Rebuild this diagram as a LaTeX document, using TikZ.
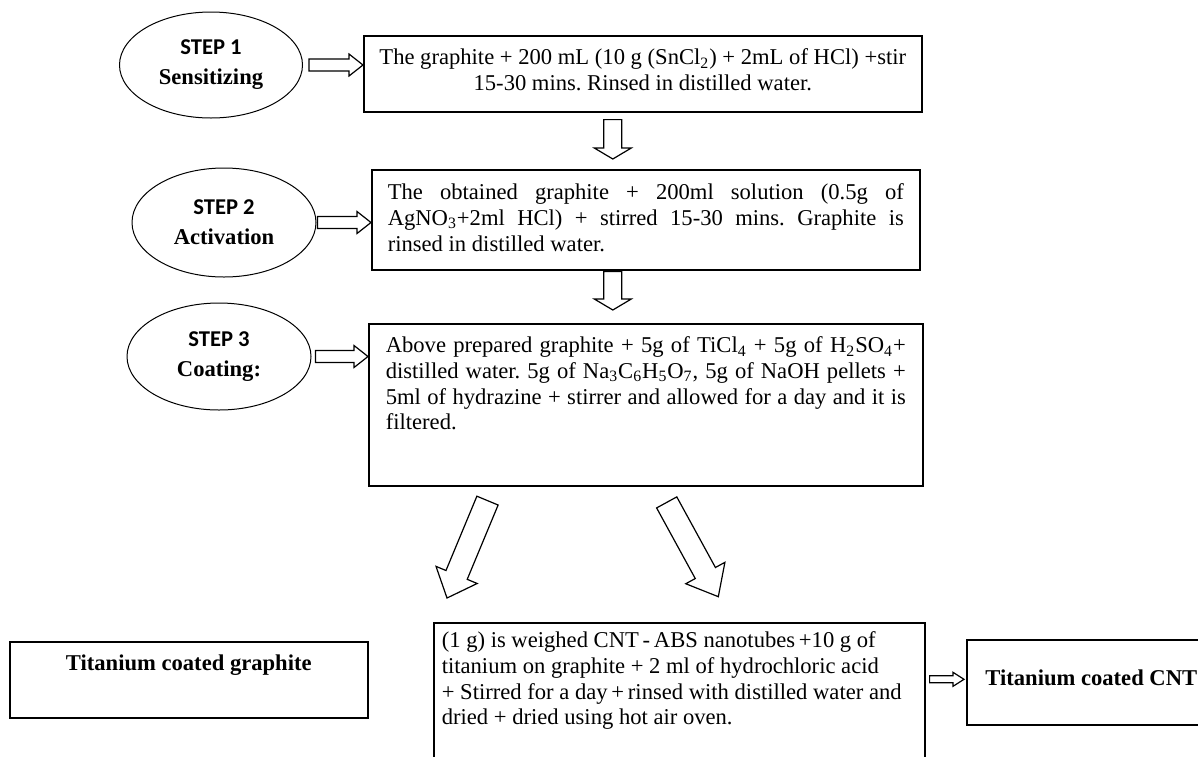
\documentclass[tikz,border=0pt]{standalone}
\usepackage{fontspec}
\setmainfont{Liberation Serif}
\newfontfamily\calibrifont{Carlito}
\usepackage{tikz}
\usetikzlibrary{calc,
positioning,
shapes.geometric}
\frenchspacing

% hollow block arrow: tail, tip, half shaft, half head, head length
\newcommand{\blockarrow}[5]{%
  \coordinate (headbase) at ($(#2)!#5!(#1)$);
  \draw[arrowline] ($(#1)!#3!90:(#2)$) -- ($(headbase)!#3!-90:(#1)$)
    -- ($(headbase)!#4!-90:(#1)$) -- (#2)
    -- ($(headbase)!#4!90:(#1)$) -- ($(headbase)!#3!90:(#1)$)
    -- ($(#1)!#3!-90:(#2)$) -- cycle;}

\begin{document}
\begin{tikzpicture}[
				x=0.5pt, y=-0.5pt,
				every node/.style={font=\fontsize{11.3}{12.85}\selectfont},
				stepoval/.style={
					draw,
					ellipse,
					line width=0.5pt,
					inner sep=0pt,
					align=center,
					font=\fontsize{11.3}{15}\selectfont\bfseries
				},
				procbox/.style={
					draw,
					line width=0.8pt,
					inner ysep=0pt,
					anchor=north west
				},
				arrowline/.style={
					draw,
					fill=white,
					line width=0.6pt,
					line join=miter
				}
				]
				\useasboundingbox[fill=white] (0,0) rectangle (1198,756);
				
				% steps
				\node[stepoval, minimum width=91.5pt, minimum height=53pt] (sensitizing) at (211,65) {{\calibrifont STEP 1}\\Sensitizing};
				\node[stepoval, minimum width=92pt, minimum height=54.5pt] (activation) at (224,222.5) {{\calibrifont STEP 2}\\Activation};
				\node[stepoval, minimum width=92pt, minimum height=53.5pt] (coating) at (219,356.5) {{\calibrifont STEP 3}\\Coating:};
				
				% process boxes
				\node[procbox, inner xsep=0pt] (sensbox) at (363,35) {\parbox[c][38pt][t]{279pt}{\centering\rule{0pt}{14.5pt}The graphite + 200 mL (10 g (SnCl\textsubscript{2}) + 2mL of HCl) +stir\\15-30 mins. Rinsed in distilled water.}};
				\node[procbox, inner xsep=8pt] (actbox) at (371,169) {\parbox[c][50pt][t]{258pt}{\hyphenpenalty=10000 \exhyphenpenalty=10000 \rule{0pt}{15pt}The obtained graphite + 200ml solution (0.5g of\linebreak AgNO\textsubscript{3}+2ml HCl) + stirred 15-30 mins. Graphite is\linebreak rinsed in distilled water.}};
				\node[procbox, inner xsep=8.5pt] (coatbox) at (368,323) {\parbox[c][81pt][t]{260pt}{\hyphenpenalty=10000 \exhyphenpenalty=10000 \rule{0pt}{14.5pt}Above prepared graphite + 5g of TiCl\textsubscript{4} + 5g of H\textsubscript{2}SO\textsubscript{4}+\linebreak distilled water. 5g of Na\textsubscript{3}C\textsubscript{6}H\textsubscript{5}O\textsubscript{7}, 5g of NaOH pellets +\linebreak 5ml of hydrazine + stirrer and allowed for a day and it is\linebreak filtered.}};
				\node[procbox, inner xsep=4pt] (cntbox) at (433,622) {\parbox[c][67.5pt][t]{237.5pt}{\raggedright\rule{0pt}{12.5pt}(1 g) is weighed CNT\,-\,ABS nanotubes\,+10 g of\\titanium on graphite + 2 ml of hydrochloric acid\\+ Stirred for a day\,+\,rinsed with distilled water and\\dried + dried using hot air oven.}};
				
				% results
				\node[procbox, inner xsep=0pt] (graphite) at (9,641) {\parbox[c][38pt][t]{179pt}{\centering\bfseries\rule{0pt}{14.5pt}Titanium coated graphite}};
				\node[procbox, inner xsep=0pt] (cnt) at (966,639) {\parbox[c][42.5pt][t]{124.5pt}{\centering\bfseries\rule{0pt}{23pt}Titanium coated CNT}};
				
				% arrows step -> box
				\coordinate (h1a) at ([xshift=3pt]sensitizing.east);
				\coordinate (h1b) at (sensbox.west |- h1a);
				\blockarrow{h1a}{h1b}{3pt}{5.5pt}{7pt}
				\coordinate (h2a) at ([xshift=0.5pt]activation.east);
				\coordinate (h2b) at (actbox.west |- h2a);
				\blockarrow{h2a}{h2b}{3pt}{5.5pt}{7pt}
				\coordinate (h3a) at ([xshift=2pt]coating.east);
				\coordinate (h3b) at (coatbox.west |- h3a);
				\blockarrow{h3a}{h3b}{3pt}{5.5pt}{7pt}
				
				% arrows box -> box
				\coordinate (v1a) at ([shift={(-30,7)}]sensbox.south);
				\coordinate[yshift=5pt] (v1b) at (v1a |- actbox.north);
				\blockarrow{v1a}{v1b}{4.5pt}{9.25pt}{5.5pt}
				\coordinate[yshift=-0.5pt] (v2a) at (v1a |- actbox.south);
				\coordinate[yshift=6.5pt] (v2b) at (v1a |- coatbox.north);
				\blockarrow{v2a}{v2b}{4.5pt}{9.25pt}{5.5pt}
				
				% arrows to products
				\coordinate (d1a) at ([shift={(119.5,14)}]coatbox.south west);
				\coordinate (d1b) at ([shift={(14,-24)}]cntbox.north west);
				\blockarrow{d1a}{d1b}{5.75pt}{11.15pt}{12.5pt}
				\coordinate (d2a) at ([shift={(298.7,15.8)}]coatbox.south west);
				\coordinate (d2b) at ([shift={(285.3,-25.3)}]cntbox.north west);
				\blockarrow{d2a}{d2b}{5.75pt}{11.15pt}{13.5pt}
				\coordinate[xshift=2pt, yshift=1.5pt] (r1a) at (cntbox.east |- cnt.west);
				\coordinate[xshift=-1pt] (r1b) at (cnt.west |- r1a);
				\blockarrow{r1a}{r1b}{1.75pt}{3.5pt}{5.5pt}
			\end{tikzpicture}
\end{document}
